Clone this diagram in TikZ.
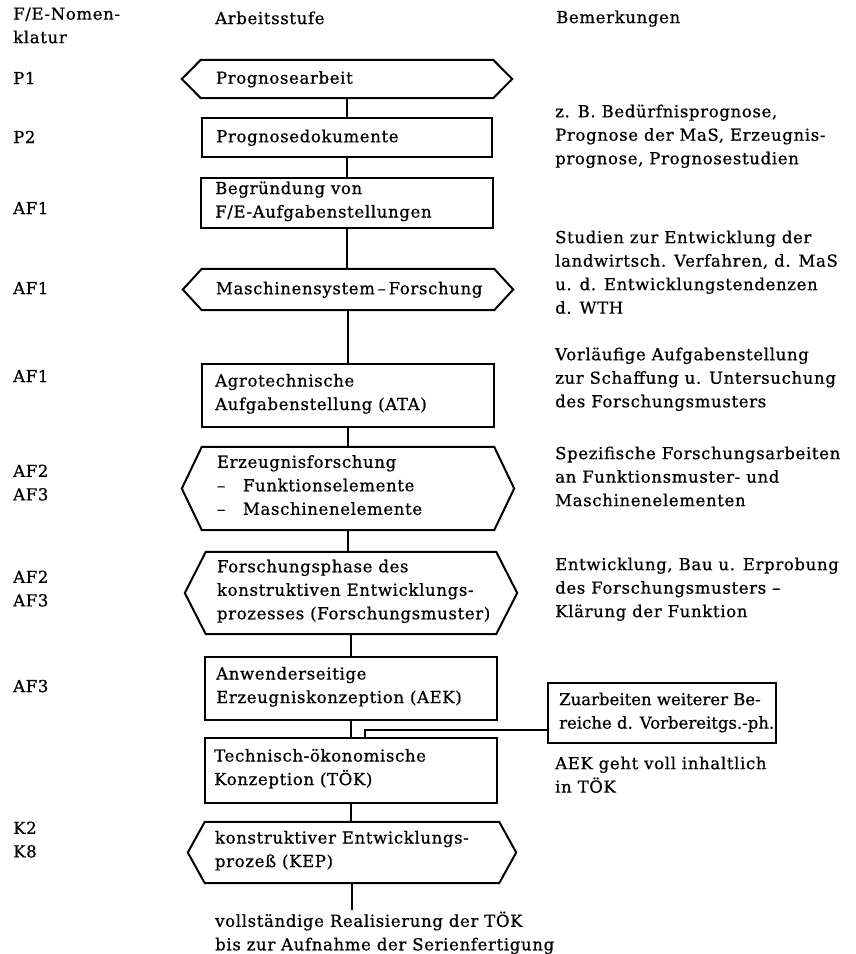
\documentclass[tikz,border=0pt]{standalone}
\usepackage{fontspec}
\setmainfont[LetterSpace=4,FakeBold=0.7]{DejaVu Serif}
\newfontfamily\tightfont[LetterSpace=0,FakeBold=0.7]{DejaVu Serif}
\usetikzlibrary{calc}
\newcommand{\diagfont}{\fontsize{16.5}{23.5}\selectfont}
\newcommand{\hexframe}[2]{\draw[conn,line join=miter] (#1.north west) -- (#1.north east) -- ($(#1.east)+(#2,0)$) -- (#1.south east) -- (#1.south west) -- ($(#1.west)+(-#2,0)$) -- cycle;}
\tikzset{
  stagebox/.style={draw, rectangle, inner sep=0pt, line width=2pt},
  hexbody/.style={rectangle, inner sep=0pt},
  lbl/.style={font=\diagfont, inner sep=0pt, align=left, anchor=north west, execute at begin node=\strut},
  intext/.style={font=\diagfont, inner sep=0pt, align=left, anchor=west, execute at begin node=\strut},
  conn/.style={line width=2pt}
}
\begin{document}
\begin{tikzpicture}[x=1pt,y=-1pt]
\useasboundingbox[fill=white] (0,0) rectangle (855,954);

% column headers
\node[lbl] (h1) at (13,7.4) {F/E-Nomen-\\klatur};
\node[lbl] (h2) at (215,7.4) {Arbeitsstufe};
\node[lbl] (h3) at (556,6.4) {Bemerkungen};

% nomenclature
\node[lbl] (n1) at (13,67.4) {P1};
\node[lbl] (n2) at (13,126.4) {P2};
\node[lbl] (n3) at (13,197.4) {AF1};
\node[lbl] (n4) at (13,277.4) {AF1};
\node[lbl] (n5) at (13,365.4) {AF1};
\node[lbl] (n6) at (13,464.4) {AF2\\AF3};
\node[lbl] (n7) at (13,570.4) {AF2\\AF3};
\node[lbl] (n8) at (13,675.4) {AF3};
\node[lbl] (n9) at (13,821.4) {K2\\K8};

% stages
\node[hexbody] (s1) at (347,79) [minimum width=292, minimum height=38] {};
\hexframe{s1}{19}
\node[intext] (t1) at ($(s1.west)+(15,0)$) {Prognosearbeit};

\node[stagebox] (s2) at (347,137.5) [minimum width=290, minimum height=39] {};
\node[intext] (t2) at ($(s2.west)+(15,0)$) {Prognosedokumente};

\node[stagebox] (s3) at (347,203) [minimum width=292, minimum height=50] {};
\node[intext] (t3) at ($(s3.west)+(15,0)$) {Begründung von\\F/E-Aufgabenstellungen};

\node[hexbody] (s4) at (348,289.5) [minimum width=292, minimum height=41] {};
\hexframe{s4}{19}
\node[intext] (t4) at ($(s4.west)+(14,0)$) {Maschinensystem\,–\,Forschung};

\node[stagebox] (s5) at (348,395.5) [minimum width=292, minimum height=63] {};
\node[intext] (t5) at ($(s5.west)+(14,0)$) {Agrotechnische\\Aufgabenstellung (ATA)};

\node[hexbody] (s6) at (348,488.5) [minimum width=292, minimum height=83] {};
\hexframe{s6}{20}
\node[intext] (t6) at ($(s6.west)+(15,0)$) {Erzeugnisforschung\\\makebox[26pt][l]{–}Funktionselemente\\\makebox[26pt][l]{–}Maschinenelemente};

\node[hexbody] (s7) at (351,593) [minimum width=290, minimum height=82] {};
\hexframe{s7}{21}
\node[intext] (t7) at ($(s7.west)+(11,0)$) {Forschungsphase des\\konstruktiven Entwicklungs-\\prozesses (Forschungsmuster)};

\node[stagebox] (s8) at (351,688.5) [minimum width=292, minimum height=63] {};
\node[intext] (t8) at ($(s8.west)+(12,0)$) {Anwenderseitige\\Erzeugniskonzeption (AEK)};

\node[stagebox] (s9) at (351,770.5) [minimum width=292, minimum height=65] {};
\node[intext] (t9) at ($(s9.west)+(10,0)$) {Technisch-ökonomische\\Konzeption (TÖK)};

\node[hexbody] (s10) at (352,852.5) [minimum width=294, minimum height=61] {};
\hexframe{s10}{17}
\node[intext] (t10) at ($(s10.west)+(10,0)$) {konstruktiver Entwicklungs-\\prozeß (KEP)};

\coordinate (endpt) at (352,910);
\node[lbl] (t11) at (215,911.4) {vollständige Realisierung der TÖK\\bis zur Aufnahme der Serienfertigung};

% side box
\node[stagebox] (z) at (662,713) [minimum width=228, minimum height=60] {};
\node[lbl, font=\diagfont\tightfont] (zt) at (559,692.4) {Zuarbeiten weiterer Be-\\reiche d. Vorbereitgs.-ph.};
\coordinate (zj) at (365,730);

% connectors
\draw[conn] (s1.south) -- (s1.south |- s2.north);
\draw[conn] (s2.south) -- (s2.south |- s3.north);
\draw[conn] (s3.south) -- (s3.south |- s4.north);
\draw[conn] (s4.south) -- (s4.south |- s5.north);
\draw[conn] (s5.south) -- (s5.south |- s6.north);
\draw[conn] (s6.south) -- (s6.south |- s7.north);
\draw[conn] (s7.south) -- (s7.south |- s8.north);
\draw[conn] (s8.south) -- (s8.south |- s9.north);
\draw[conn] (s9.south) -- (s9.south |- s10.north);
\draw[conn] (s10.south) -- (s10.south |- endpt);
\draw[conn] (z.west |- zj) -- (zj) -- (zj |- s9.north);

% remarks
\node[lbl] (r1) at (555,104.4) {z. B. Bedürfnisprognose,\\Prognose der MaS, Erzeugnis-\\prognose, Prognosestudien};
\node[lbl] (r2) at (555,230.4) {Studien zur Entwicklung der\\landwirtsch. Verfahren, d. MaS\\u. d. Entwicklungstendenzen\\d. WTH};
\node[lbl] (r3) at (555,347.4) {Vorläufige Aufgabenstellung\\zur Schaffung u. Untersuchung\\des Forschungsmusters};
\node[lbl] (r4) at (555,446.4) {Spezifische Forschungsarbeiten\\an Funktionsmuster- und\\Maschinenelementen};
\node[lbl] (r5) at (555,557.4) {Entwicklung, Bau u. Erprobung\\des Forschungsmusters –\\Klärung der Funktion};
\node[lbl] (r6) at (555,756.4) {AEK geht voll inhaltlich\\in TÖK};
\end{tikzpicture}
\end{document}
